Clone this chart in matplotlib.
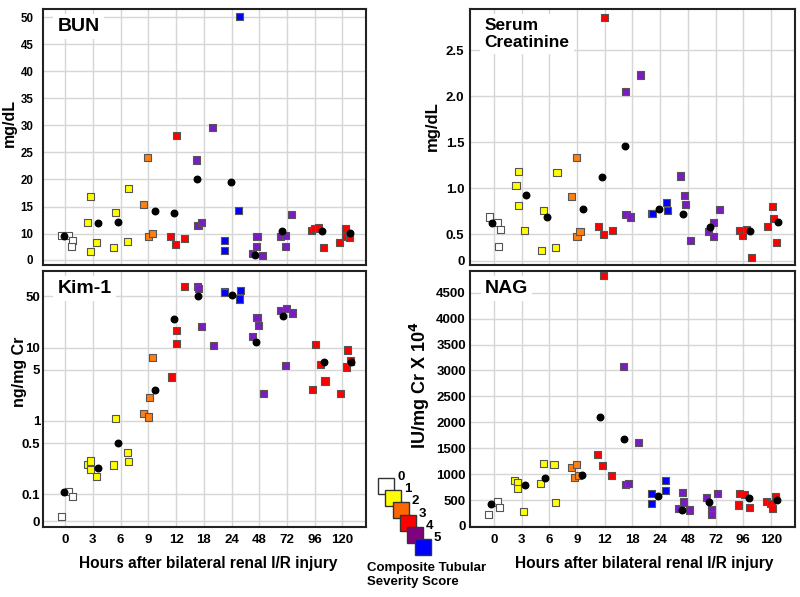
import numpy as np
import matplotlib
matplotlib.use('Agg')
import matplotlib.pyplot as plt
from matplotlib.patches import Rectangle

plt.rcParams['font.family'] = ['Liberation Sans', 'DejaVu Sans']
plt.rcParams['font.weight'] = 'bold'

## data
hours = ['0', '3', '6', '9', '12', '18', '24', '48', '72', '96', '120']
score_names = ['0', '1', '2', '3', '4', '5']
score_colors = ['#ffffff', '#ffff00', '#ff7f10', '#ff0000', '#7a1cc0', '#0000ff']
legend_colors = ['#ffffff', '#ffff00', '#ff6600', '#ff0000', '#800080', '#0000ff']

# x = hour group position (with the jitter seen in the figure), y = value, s = severity score
bun_x = [-0.12, 0.12, 0.26, 0.22, 0.8, 0.92, 0.9, 1.13, 1.83, 1.75, 2.28, 2.24,
         2.84, 2.98, 3.02, 3.14, 3.81, 3.99, 4.01, 4.29, 4.75, 4.79, 4.91, 5.31,
         5.75, 5.76, 6.25, 6.29, 6.74, 6.92, 6.9, 7.13, 7.76, 7.94, 7.94, 8.16,
         8.89, 8.98, 9.13, 9.32, 9.88, 10.1, 10.12, 10.24]
bun_y = [9.7, 9.7, 8.7, 7.6, 12.1, 16.8, 6.7, 8.3, 13.9, 7.4, 18.3, 8.6,
         15.3, 24.1, 9.4, 10.0, 9.5, 8.0, 28.2, 9.1, 23.6, 11.5, 12.0, 29.6,
         8.8, 6.9, 14.2, 50.2, 6.4, 9.4, 7.6, 5.9, 9.4, 9.7, 7.7, 13.5,
         10.6, 11.0, 11.2, 7.5, 8.3, 9.4, 11.0, 9.2]
bun_s = [0, 0, 0, 0, 1, 1, 1, 1, 1, 1, 1, 1, 2, 2, 2, 2, 3, 3, 3, 3, 4, 4, 4, 4,
         5, 5, 5, 5, 4, 4, 4, 4, 4, 4, 4, 4, 3, 3, 3, 3, 3, 3, 3, 3]
bun_mean_x = [-0.06, 1.17, 1.92, 3.23, 3.92, 4.77, 5.99, 6.85, 7.82, 9.28, 10.28]
bun_mean_y = [9.5, 11.9, 12.1, 14.1, 13.8, 20.1, 19.5, 6.1, 10.5, 10.5, 10.2]

cre_x = [-0.14, 0.13, 0.25, 0.18, 0.8, 0.9, 0.88, 1.1, 1.8, 1.73, 2.28, 2.22,
         2.8, 2.97, 3.0, 3.11, 3.79, 3.97, 4.0, 4.27, 4.74, 4.77, 4.92, 5.29,
         5.68, 5.72, 6.24, 6.25, 6.72, 6.87, 6.92, 7.11, 7.73, 7.91, 7.94, 8.13,
         8.87, 8.96, 9.11, 9.3, 9.86, 10.06, 10.1, 10.21]
cre_y = [0.69, 0.626, 0.554, 0.366, 1.034, 1.182, 0.818, 0.547, 0.764, 0.33, 1.17, 0.356,
         0.912, 1.341, 0.482, 0.532, 0.59, 0.496, 2.857, 0.547, 2.052, 0.72, 0.69, 2.233,
         0.727, 0.727, 0.843, 0.756, 1.135, 0.919, 0.829, 0.439, 0.529, 0.63, 0.482, 0.774,
         0.547, 0.493, 0.554, 0.25, 0.587, 0.8, 0.673, 0.41]
cre_s = bun_s
cre_mean_x = [-0.06, 1.16, 1.91, 3.22, 3.89, 4.75, 5.95, 6.81, 7.79, 9.25, 10.24]
cre_mean_y = [0.626, 0.933, 0.688, 0.78, 1.125, 1.46, 0.78, 0.727, 0.583, 0.54, 0.63]

kim_x = [-0.12, 0.12, 0.26, 0.8, 0.92, 0.9, 1.13, 1.83, 1.75, 2.25, 2.3,
         2.84, 3.0, 3.03, 3.15, 3.82, 4.01, 4.01, 4.31, 4.77, 4.81, 4.93, 5.34,
         5.76, 5.74, 6.31, 6.29, 6.77, 6.92, 6.97, 7.16, 7.78, 7.99, 8.19, 7.96,
         9.02, 8.92, 9.2, 9.37, 9.94, 10.14, 10.18, 10.28]
kim_y = [0.0496, 0.109, 0.093, 0.256, 0.285, 0.215, 0.176, 1.087, 0.251, 0.37, 0.279,
         1.26, 1.135, 2.08, 7.31, 3.98, 16.9, 11.3, 69, 69, 63.8, 19.3, 10.8,
         58, 57, 61, 46, 14.1, 25.7, 20.2, 2.36, 32.4, 34, 29.7, 5.74,
         11.1, 2.7, 5.93, 3.51, 2.38, 5.45, 9.29, 6.58]
kim_s = [0, 0, 0, 1, 1, 1, 1, 1, 1, 1, 1, 2, 2, 2, 2, 3, 3, 3, 3, 4, 4, 4, 4,
         5, 5, 5, 5, 4, 4, 4, 4, 4, 4, 4, 4, 3, 3, 3, 3, 3, 3, 3, 3]
kim_mean_x = [-0.06, 1.17, 1.92, 3.25, 3.92, 4.79, 6.01, 6.87, 7.86, 9.33, 10.32]
kim_mean_y = [0.108, 0.226, 0.496, 2.65, 24.3, 50.1, 51.8, 11.9, 27, 6.44, 6.44]

nag_x = [-0.18, 0.14, 0.22, 0.76, 0.84, 0.86, 1.06, 1.7, 1.78, 2.17, 2.22,
         2.79, 2.97, 2.92, 3.06, 3.75, 3.93, 3.95, 4.23, 4.68, 4.74, 4.86, 5.22,
         5.68, 5.68, 6.18, 6.18, 6.66, 6.82, 6.86, 7.06, 7.68, 7.86, 7.86, 8.08,
         8.82, 8.88, 9.06, 9.24, 9.84, 10.0, 10.05, 10.18]
nag_y = [212, 462, 353, 885, 840, 724, 276, 820, 1205, 1186, 449,
         1128, 1179, 929, 974, 1378, 1167, 4827, 974, 3083, 801, 821, 1603,
         628, 436, 885, 679, 340, 654, 462, 308, 551, 308, 212, 628,
         404, 628, 609, 353, 468, 436, 340, 564]
nag_s = kim_s
nag_mean_x = [-0.11, 1.12, 1.86, 3.18, 3.84, 4.69, 5.92, 6.78, 7.75, 9.21, 10.2]
nag_mean_y = [417, 788, 929, 981, 2096, 1686, 583, 308, 468, 545, 500]

## figure
fig = plt.figure(figsize=(8, 5.97), dpi=100)
ax_bun = fig.add_axes([0.05375, 0.5561, 0.40375, 0.4288])
ax_cre = fig.add_axes([0.5875, 0.5561, 0.406, 0.4288])
ax_kim = fig.add_axes([0.05375, 0.1173, 0.40375, 0.4288])
ax_nag = fig.add_axes([0.5875, 0.1173, 0.406, 0.4288])

title_size = {'Serum\nCreatinine': 12.5}


def draw_panel(ax, x, y, s, mx, my, title, ylabel, ypad):
    cols = [score_colors[k] for k in s]
    ax.scatter(x, y, marker='s', s=26, c=cols, edgecolors='#555555', linewidths=0.8, zorder=4)
    ax.scatter(mx, my, marker='o', s=22, c='black', zorder=5)
    ax.set_xticks(range(len(hours)))
    ax.set_xticklabels(hours)
    ax.grid(True, color='#d6d6d6', linewidth=1)
    ax.set_axisbelow(True)
    ax.tick_params(length=0, labelsize=9.5, pad=ypad)
    ax.tick_params(axis='x', pad=5)
    for sp in ax.spines.values():
        sp.set_color('#222222')
        sp.set_linewidth(1.5)
    ax.text(0.045, 0.965, title, transform=ax.transAxes, ha='left', va='top',
            fontsize=title_size.get(title, 14), fontweight='bold', linespacing=1.15,
            bbox=dict(facecolor='white', edgecolor='none', pad=3), zorder=3)
    ax.set_ylabel(ylabel, fontsize=12, fontweight='bold')
    for lab in ax.get_xticklabels() + ax.get_yticklabels():
        lab.set_fontweight('bold')


draw_panel(ax_bun, bun_x, bun_y, bun_s, bun_mean_x, bun_mean_y, 'BUN', 'mg/dL', 7)
draw_panel(ax_cre, cre_x, cre_y, cre_s, cre_mean_x, cre_mean_y, 'Serum\nCreatinine', 'mg/dL', 4)
draw_panel(ax_kim, kim_x, kim_y, kim_s, kim_mean_x, kim_mean_y, 'Kim-1', 'ng/mg Cr', 2)
draw_panel(ax_nag, nag_x, nag_y, nag_s, nag_mean_x, nag_mean_y, 'NAG', 'IU/mg Cr X 10$^\\mathbf{4}$', 3)

# top row: no hour labels
ax_bun.set_xticklabels([])
ax_cre.set_xticklabels([])

# BUN (axis broken below 10)
ax_bun.set_xlim(-0.8, 10.85)
ax_bun.set_ylim(4.2, 51.5)
ax_bun.set_yticks([5.15, 10, 15, 20, 25, 30, 35, 40, 45, 50])
ax_bun.set_yticklabels(['0', '10', '15', '20', '25', '30', '35', '40', '45', '50'])
ax_bun.tick_params(axis='y', labelsize=8.3, pad=7)
ax_bun.set_ylabel('mg/dL', fontsize=11.5, fontweight='bold')
ax_bun.yaxis.set_label_coords(-0.08, 0.555)

# creatinine (axis broken below 0.5)
ax_cre.set_xlim(-0.86, 10.86)
ax_cre.set_ylim(0.168, 2.95)
ax_cre.set_yticks([0.215, 0.5, 1.0, 1.5, 2.0, 2.5])
ax_cre.set_yticklabels(['0', '0.5', '1.0', '1.5', '2.0', '2.5'])
ax_cre.yaxis.set_label_coords(-0.092, 0.543)

# Kim-1 (log)
ax_kim.set_yscale('log')
ax_kim.set_xlim(-0.8, 10.85)
ax_kim.set_ylim(0.0359, 111)
ax_kim.set_yticks([0.0433, 0.1, 0.5, 1, 5, 10, 50])
ax_kim.set_yticklabels(['0', '0.1', '0.5', '1', '5', '10', '50'])
ax_kim.yaxis.set_minor_locator(matplotlib.ticker.NullLocator())
ax_kim.set_ylabel('ng/mg Cr', fontsize=11.5, fontweight='bold')
ax_kim.yaxis.set_label_coords(-0.05, 0.605)

# NAG
ax_nag.set_xlim(-0.86, 10.86)
ax_nag.set_ylim(-20, 4920)
ax_nag.set_yticks(np.arange(0, 4501, 500))
ax_nag.set_ylabel('IU/mg Cr X 10$^\\mathbf{4}$', fontsize=13, fontweight='bold')
ax_nag.yaxis.set_label_coords(-0.117, 0.555)

for ax in (ax_kim, ax_nag):
    ax.set_xlabel('Hours after bilateral renal I/R injury', fontsize=11.2, fontweight='bold')
for lab in ax_bun.get_yticklabels() + ax_kim.get_yticklabels() + ax_nag.get_yticklabels():
    lab.set_fontweight('bold')
ax_kim.xaxis.set_label_coords(0.511, -0.113)
ax_nag.xaxis.set_label_coords(0.538, -0.113)

## legend (staircase of squares between the bottom panels)
leg = fig.add_axes([0, 0, 1, 1], facecolor='none')
leg.set_xlim(0, 800)
leg.set_ylim(597, 0)
leg.axis('off')
for i, name in enumerate(score_names):
    x0 = 378 + 7.3 * i
    y0 = 478 + 12.2 * i
    leg.add_patch(Rectangle((x0, y0), 16, 16, facecolor=legend_colors[i],
                            edgecolor='#333333', linewidth=1))
    leg.text(x0 + 19, y0 - 1, name, fontsize=9.5, fontweight='bold', ha='left', va='center')
leg.text(367, 562, 'Composite Tubular\nSeverity Score', fontsize=9.5, fontweight='bold',
         ha='left', va='top', linespacing=1.2)

fig.savefig('out.png', dpi=100)
